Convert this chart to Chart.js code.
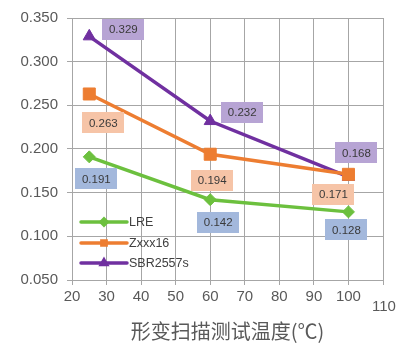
<!DOCTYPE html>
<html>
<head>
<meta charset="utf-8">
<script src="https://cdn.jsdelivr.net/npm/chart.js@4/dist/chart.umd.min.js"></script>
<style>
  html, body { margin: 0; padding: 0; background: #fff; }
  #wrap { width: 403px; height: 343px; }
</style>
</head>
<body>
<div id="wrap"><canvas id="chart"></canvas></div>
<script>
// data
const temps = [25, 60, 100];
const lreValues = [0.191, 0.142, 0.128];
const zxxValues = [0.263, 0.194, 0.171];
const sbrValues = [0.329, 0.232, 0.168];
const seriesNames = ['LRE', 'Zxxx16', 'SBR2557s'];
const xTitle = '形变扫描测试温度(℃)';

const lineColors = ['#6cc03e', '#ed7d31', '#7030a0'];
const boxColors = ['#a3b8dc', '#f6c4a7', '#b7a4d4'];
const pointStyles = ['rectRot', 'rect', 'triangle'];
const pointSizes = [6, 8.5, 7];
// where each value box sits relative to its point
const labelOffsets = [
    [[7, 22], [8, 23], [-2, 18]],
    [[14, 29], [2, 26], [-15, 20]],
    [[34, -7], [32, -9], [8, -24]]
];

const gray = '#595959';
const gridColor = '#a6a6a6';

const toPoints = (vals) => temps.map((t, i) => ({ x: t, y: vals[i] }));
const allSeries = [lreValues, zxxValues, sbrValues];

const valueBoxes = {
    id: 'valueBoxes',
    afterDatasetsDraw(chart) {
        const ctx = chart.ctx;
        ctx.save();
        ctx.font = '11.5px "Liberation Sans", Arial, sans-serif';
        ctx.textAlign = 'center';
        ctx.textBaseline = 'middle';
        chart.data.datasets.forEach((ds, di) => {
            chart.getDatasetMeta(di).data.forEach((pt, i) => {
                const off = labelOffsets[di][i];
                const cx = pt.x + off[0];
                const cy = pt.y + off[1];
                ctx.fillStyle = boxColors[di];
                ctx.fillRect(Math.round(cx - 21), Math.round(cy - 10.5), 42, 21);
                ctx.fillStyle = '#3a3a3a';
                ctx.fillText(ds.data[i].y.toFixed(3), cx, cy + 0.5);
            });
        });

        // legend inside the plot
        ctx.textAlign = 'left';
        ctx.font = '12.5px "Liberation Sans", Arial, sans-serif';
        const lx = chart.chartArea.left + 9;
        const ys = [222, 243, 263];
        seriesNames.forEach((name, i) => {
            ctx.strokeStyle = lineColors[i];
            ctx.lineWidth = 3.5;
            ctx.lineCap = 'round';
            ctx.beginPath();
            ctx.moveTo(lx, ys[i]);
            ctx.lineTo(lx + 46, ys[i]);
            ctx.stroke();
            ctx.fillStyle = lineColors[i];
            Chart.helpers.drawPoint(ctx, { pointStyle: pointStyles[i], radius: 3, borderWidth: 1 }, lx + 23, ys[i]);
            ctx.fill();
            ctx.fillStyle = '#404040';
            ctx.fillText(name, lx + 48, ys[i] + 1);
        });

        // the last x tick label sits a little lower in the original
        const xs = chart.scales.x;
        ctx.textAlign = 'center';
        ctx.font = '15px "Liberation Sans", Arial, sans-serif';
        ctx.fillStyle = gray;
        ctx.fillText('110', xs.getPixelForValue(110) + 1, chart.chartArea.bottom + 27);
        ctx.restore();
    }
};

new Chart(document.getElementById('chart'), {
    type: 'line',
    data: {
        datasets: allSeries.map((vals, i) => ({
            label: seriesNames[i],
            data: toPoints(vals),
            borderColor: lineColors[i],
            backgroundColor: lineColors[i],
            borderWidth: 3.5,
            pointStyle: pointStyles[i],
            pointRadius: pointSizes[i],
            pointBorderWidth: 1,
            tension: 0
        }))
    },
    options: {
        responsive: true,
        maintainAspectRatio: false,
        animation: false,
        layout: { padding: { top: 16, right: 20, left: 0, bottom: 0 } },
        plugins: {
            legend: { display: false },
            tooltip: { enabled: false }
        },
        scales: {
            x: {
                type: 'linear',
                min: 20,
                max: 110,
                afterFit: (s) => { s.height = 63; },
                ticks: {
                    stepSize: 10,
                    color: gray,
                    font: { size: 15, family: '"Liberation Sans", Arial, sans-serif' },
                    padding: 3,
                    maxRotation: 0,
                    callback: (v) => v === 110 ? '' : v
                },
                grid: { color: gridColor, tickLength: 5, lineWidth: 1 },
                border: { color: gridColor },
                title: {
                    display: true,
                    text: xTitle,
                    color: gray,
                    font: { size: 20, family: '"Noto Sans CJK SC", sans-serif' },
                    padding: { top: 2, bottom: 0 }
                }
            },
            y: {
                min: 0.05,
                max: 0.35,
                afterFit: (s) => { s.width = 72; },
                ticks: {
                    stepSize: 0.05,
                    color: gray,
                    font: { size: 15, family: '"Liberation Sans", Arial, sans-serif' },
                    padding: 9,
                    callback: (v) => v.toFixed(3)
                },
                grid: { color: gridColor, tickLength: 5, lineWidth: 1 },
                border: { color: gridColor }
            }
        }
    },
    plugins: [valueBoxes]
});
</script>
</body>
</html>
